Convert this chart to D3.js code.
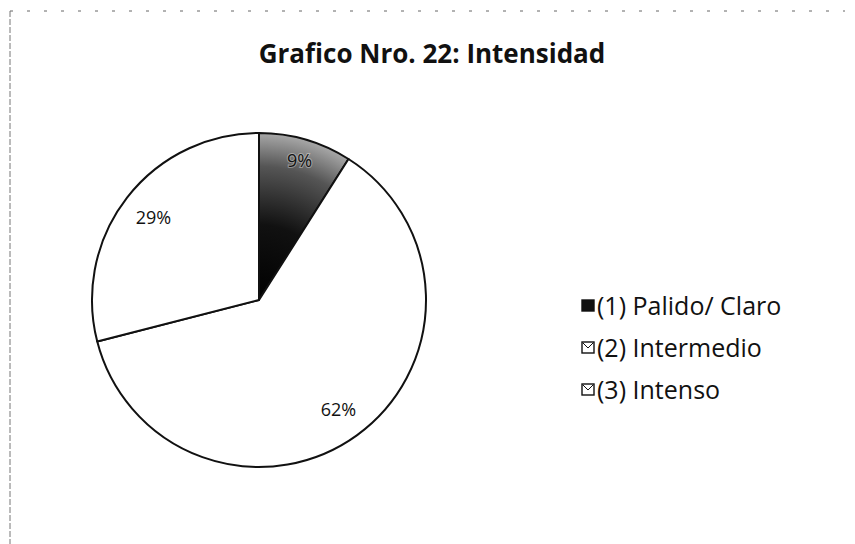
<!DOCTYPE html>
<html lang="es">
<head>
<meta charset="utf-8">
<title>Grafico Nro. 22</title>
<script src="https://d3js.org/d3.v7.min.js"></script>
<style>
  body { margin: 0; background: #fff; }
  svg text { font-family: "Open Sans", "Noto Sans", sans-serif; fill: #111; }
</style>
</head>
<body>
<script>
var categories = ["(1) Palido/ Claro", "(2) Intermedio", "(3) Intenso"];
var values = [9, 62, 29];
var labels = ["9%", "62%", "29%"];

var width = 855, height = 544;
var cx = 259, cy = 300, radius = 167;

var svg = d3.select("body").append("svg")
    .attr("width", width)
    .attr("height", height);

// radial shading for the dark slice (coords are local to the pie group)
var grad = svg.append("defs").append("radialGradient")
    .attr("id", "dark")
    .attr("gradientUnits", "userSpaceOnUse")
    .attr("cx", 0).attr("cy", 0).attr("r", radius);
grad.append("stop").attr("offset", "0%").attr("stop-color", "#000");
grad.append("stop").attr("offset", "45%").attr("stop-color", "#111");
grad.append("stop").attr("offset", "80%").attr("stop-color", "#555");
grad.append("stop").attr("offset", "100%").attr("stop-color", "#a8a8a8");

// scanned frame edges
svg.append("line")
    .attr("x1", 10).attr("x2", 845).attr("y1", 11).attr("y2", 11)
    .attr("stroke", "#666").attr("stroke-width", 1)
    .attr("stroke-dasharray", "3,14");
svg.append("line")
    .attr("x1", 10).attr("x2", 10).attr("y1", 11).attr("y2", 544)
    .attr("stroke", "#777").attr("stroke-width", 1)
    .attr("stroke-dasharray", "6,2");

svg.append("text")
    .attr("x", 432).attr("y", 63)
    .attr("text-anchor", "middle")
    .style("font-size", "26px")
    .style("font-weight", "bold")
    .text("Grafico Nro. 22: Intensidad");

var pie = d3.pie().sort(null).value(function(d) { return d; });
var arc = d3.arc().innerRadius(0).outerRadius(radius);
var fills = ["url(#dark)", "#fff", "#fff"];

var g = svg.append("g").attr("transform", "translate(" + cx + "," + cy + ")");
var arcs = pie(values);

g.selectAll("path")
    .data(arcs)
  .enter().append("path")
    .attr("d", arc)
    .attr("fill", function(d, i) { return fills[i]; })
    .attr("stroke", "#111")
    .attr("stroke-width", 2)
    .attr("stroke-linejoin", "round");

// label positions along each slice
var labelR = [0.87, 0.81, 0.80];
g.selectAll("text.pct")
    .data(arcs)
  .enter().append("text")
    .attr("class", "pct")
    .attr("transform", function(d, i) {
        var a = d3.arc().innerRadius(radius * labelR[i]).outerRadius(radius * labelR[i]);
        return "translate(" + a.centroid(d) + ")";
    })
    .attr("text-anchor", "middle")
    .attr("dy", "0.35em")
    .style("font-size", "18px")
    .style("paint-order", "stroke")
    .style("stroke", function(d, i) { return i === 0 ? "rgba(255,255,255,0.35)" : "none"; })
    .style("stroke-width", 2)
    .text(function(d, i) { return labels[i]; });

// legend
var legend = svg.append("g").attr("transform", "translate(582,306)");
var item = legend.selectAll("g")
    .data(categories)
  .enter().append("g")
    .attr("transform", function(d, i) { return "translate(0," + (i * 42) + ")"; });

item.append("rect")
    .attr("x", 0).attr("y", -6)
    .attr("width", 12).attr("height", 11)
    .attr("fill", function(d, i) { return i === 0 ? "#111" : "#fff"; })
    .attr("stroke", "#111")
    .attr("stroke-width", 1.4);
item.filter(function(d, i) { return i > 0; }).append("path")
    .attr("d", "M1,-5 L6,0 L11,-5")
    .attr("fill", "none")
    .attr("stroke", "#111")
    .attr("stroke-width", 1);

item.append("text")
    .attr("x", 15).attr("y", 0)
    .attr("dy", "0.35em")
    .style("font-size", "25px")
    .text(function(d) { return d; });
</script>
</body>
</html>
